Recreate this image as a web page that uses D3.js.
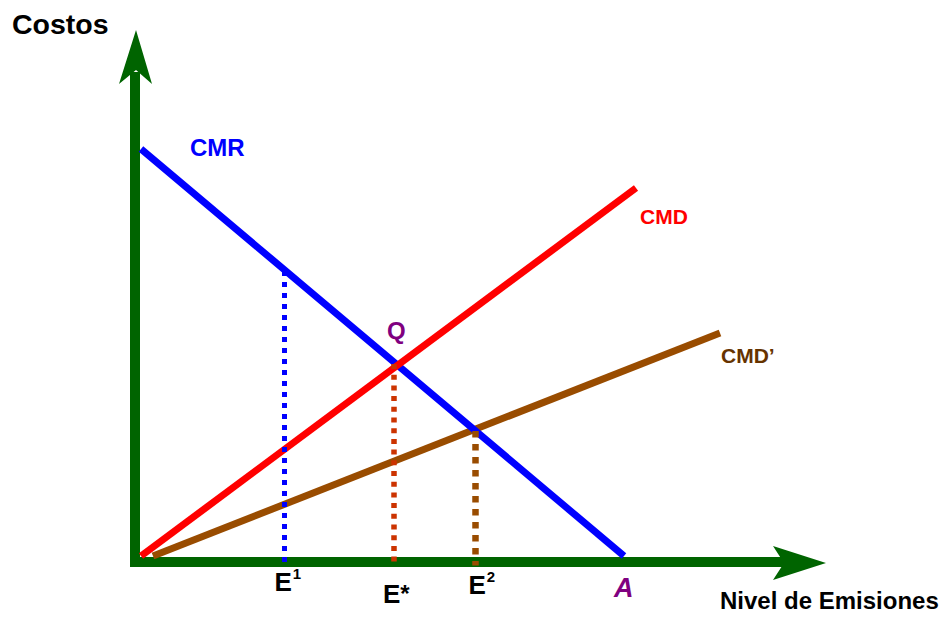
<!DOCTYPE html>
<html>
<head>
<meta charset="utf-8">
<script src="https://cdn.jsdelivr.net/npm/d3@7"></script>
<style>
  html, body { margin: 0; padding: 0; background: #fff; }
  svg { display: block; }
  text { font-family: "Liberation Sans", Arial, sans-serif; font-weight: bold; }
</style>
</head>
<body>
<svg id="chart" width="941" height="617"></svg>
<script>
// ---- data (abstract units: emissions on x, costs on y) ----
const curveNames = ["CMR", "CMD", "CMD’"];
const cmrPoints  = [[0, 81.4], [96.6, 0]];
const cmdPoints  = [[0, 0], [99, 73.6]];
const cmd2Points = [[2.4, 0], [115.8, 44.6]];
const levelLabels = ["E", "E", "E"];
const levelSups   = ["1", "*", "2"];
const levelX      = [28.7, 50.6, 66.9];
const levelTop    = [57, 38.4, 25];
const qPoint      = [50.6, 38.4];
const aPoint      = [96.6, 0];

const svg = d3.select("#chart");
const x = d3.scaleLinear().domain([0, 100]).range([141, 641]);
const y = d3.scaleLinear().domain([0, 100]).range([556, 56]);

const green = "#006400";

// ---- axes (arrows) ----
const ox = x(0) - 6, oy = y(0) + 6;
svg.append("line").attr("x1", ox).attr("x2", ox).attr("y1", oy + 5).attr("y2", 72)
  .attr("stroke", green).attr("stroke-width", 10);
svg.append("path").attr("d", `M${ox + 1},30 L${ox + 17},84 L${ox + 1},70 L${ox - 16},84 Z`).attr("fill", green);
svg.append("line").attr("x1", ox - 5).attr("x2", 786).attr("y1", oy).attr("y2", oy)
  .attr("stroke", green).attr("stroke-width", 10);
svg.append("path").attr("d", `M826,${oy + 1} L773,${oy - 16} L784,${oy + 1} L773,${oy + 18} Z`).attr("fill", green);

// ---- curves ----
const line = d3.line().x(d => x(d[0])).y(d => y(d[1]));
const curves = [
  {pts: cmd2Points, color: "#994c00"},
  {pts: cmrPoints, color: "#0000ff"},
  {pts: cmdPoints, color: "#ff0000"}
];
curves.forEach(c => {
  svg.append("path").attr("d", line(c.pts)).attr("fill", "none")
    .attr("stroke", c.color).attr("stroke-width", 7);
});

// ---- dotted guides ----
const dotColors = ["#0000ff", "#cc3300", "#994c00"];
const dotWidths = [5, 5.5, 6.5];
const dotDash = ["5 6", "5 5.7", "6.5 6.5"];
levelX.forEach((lx, i) => {
  svg.append("line")
    .attr("x1", x(lx)).attr("x2", x(lx))
    .attr("y1", y(levelTop[i])).attr("y2", y(-1.9))
    .attr("stroke", dotColors[i]).attr("stroke-width", dotWidths[i])
    .attr("stroke-dasharray", dotDash[i]);
});

// ---- labels ----
svg.append("text").attr("x", 12).attr("y", 34).attr("font-size", 28.5).attr("fill", "#000").text("Costos");
svg.append("text").attr("x", 720).attr("y", 609).attr("font-size", 24).attr("fill", "#000").text("Nivel de Emisiones");

svg.append("text").attr("x", 190).attr("y", 156).attr("font-size", 24).attr("fill", "#0000ff").text(curveNames[0]);
svg.append("text").attr("x", 640).attr("y", 224).attr("font-size", 21).attr("fill", "#ff0000").text(curveNames[1]);
svg.append("text").attr("x", 721).attr("y", 363).attr("font-size", 21).attr("fill", "#663300").text(curveNames[2]);

svg.append("text").attr("x", x(qPoint[0]) - 7).attr("y", 339).attr("font-size", 24).attr("fill", "#800080").text("Q");
svg.append("text").attr("x", x(aPoint[0]) - 10).attr("y", 597).attr("font-size", 27)
  .attr("font-style", "italic").attr("fill", "#800080").text("A");

const labelBase = [591, 603, 594];
const labelDx = [-10, -11, -7];
levelX.forEach((lx, i) => {
  const t = svg.append("text").attr("x", x(lx) + labelDx[i]).attr("y", labelBase[i])
    .attr("font-size", 26).attr("fill", "#000");
  t.append("tspan").text(levelLabels[i]);
  if (levelSups[i] === "*") {
    t.append("tspan").attr("font-size", 24).attr("dy", -1).text("*");
  } else {
    t.append("tspan").attr("font-size", 15).attr("dy", -12).attr("dx", 1).text(levelSups[i]);
  }
});
</script>
</body>
</html>
